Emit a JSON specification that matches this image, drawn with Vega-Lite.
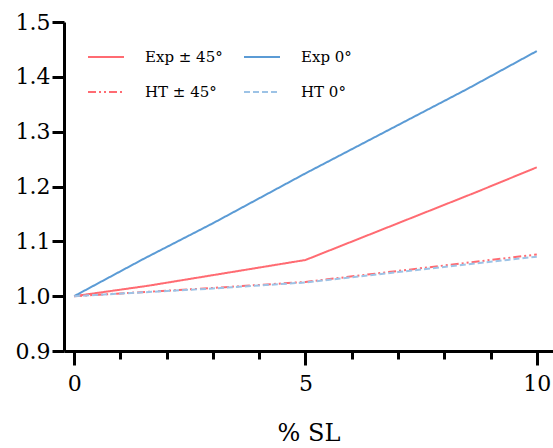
{
  "$schema": "https://vega.github.io/schema/vega-lite/v6.json",
  "autosize": "none",
  "width": 489,
  "height": 329,
  "padding": {"left": 64, "top": 22, "right": 0, "bottom": 97},
  "background": "white",
  "config": {
    "view": {"stroke": null},
    "font": "DejaVu Serif",
    "axis": {"grid": false, "domainColor": "black", "domainWidth": 3, "tickColor": "black", "tickWidth": 3, "labelColor": "black", "labelFont": "DejaVu Serif", "titleFont": "DejaVu Serif", "titleColor": "black", "titleFontWeight": "normal"},
    "legend": {"labelFont": "DejaVu Serif"}
  },
  "data": {"values": [
    {"series": "Exp ± 45°", "x": 0, "y": 1.0},
    {"series": "Exp ± 45°", "x": 1.6, "y": 1.019},
    {"series": "Exp ± 45°", "x": 5, "y": 1.066},
    {"series": "Exp ± 45°", "x": 7, "y": 1.133},
    {"series": "Exp ± 45°", "x": 8.7, "y": 1.19},
    {"series": "Exp ± 45°", "x": 10, "y": 1.235},
    {"series": "Exp 0°", "x": 0, "y": 1.0},
    {"series": "Exp 0°", "x": 1.5, "y": 1.068},
    {"series": "Exp 0°", "x": 3, "y": 1.133},
    {"series": "Exp 0°", "x": 5, "y": 1.224},
    {"series": "Exp 0°", "x": 7, "y": 1.312},
    {"series": "Exp 0°", "x": 8.5, "y": 1.378},
    {"series": "Exp 0°", "x": 10, "y": 1.447},
    {"series": "HT ± 45°", "x": 0, "y": 1.0},
    {"series": "HT ± 45°", "x": 3, "y": 1.015},
    {"series": "HT ± 45°", "x": 5, "y": 1.026},
    {"series": "HT ± 45°", "x": 7, "y": 1.046},
    {"series": "HT ± 45°", "x": 10, "y": 1.076},
    {"series": "HT 0°", "x": 0, "y": 1.0},
    {"series": "HT 0°", "x": 3, "y": 1.014},
    {"series": "HT 0°", "x": 5, "y": 1.025},
    {"series": "HT 0°", "x": 7, "y": 1.044},
    {"series": "HT 0°", "x": 10, "y": 1.072}
  ]},
  "mark": {"type": "line", "strokeWidth": 2},
  "encoding": {
    "x": {
      "field": "x", "type": "quantitative",
      "scale": {"domain": [-0.22, 10.35], "nice": false, "zero": false},
      "axis": {
        "values": [0, 1, 2, 3, 4, 5, 6, 7, 8, 9, 10],
        "labelExpr": "datum.value % 5 === 0 ? datum.label : ''",
        "tickSize": {"condition": {"test": "datum.value % 5 === 0", "value": 14}, "value": 8},
        "labelFontSize": 22,
        "labelPadding": 8,
        "labelFlush": false,
        "title": "% SL",
        "titleFontSize": 24,
        "titleBaseline": "alphabetic",
        "titleY": 89
      }
    },
    "y": {
      "field": "y", "type": "quantitative",
      "scale": {"domain": [0.9, 1.5], "nice": false, "zero": false},
      "axis": {
        "values": [0.9, 1.0, 1.1, 1.2, 1.3, 1.4, 1.5],
        "format": ".1f",
        "tickSize": 12,
        "labelPadding": 2,
        "labelFontSize": 22,
        "labelFlush": false,
        "title": null
      }
    },
    "color": {
      "field": "series", "type": "nominal",
      "scale": {"domain": ["Exp ± 45°", "HT ± 45°", "Exp 0°", "HT 0°"], "range": ["#FF6B72", "#FF6B72", "#5B9BD5", "#9DC3E6"]},
      "legend": {"title": null, "orient": "none", "legendX": 23, "legendY": 16, "columns": 2, "symbolType": "stroke", "symbolSize": 1296, "symbolStrokeWidth": 2, "labelFontSize": 15, "labelColor": "black", "labelOffset": 20, "columnPadding": 17, "rowPadding": 8, "padding": 0}
    },
    "strokeDash": {
      "field": "series", "type": "nominal",
      "scale": {"domain": ["Exp ± 45°", "HT ± 45°", "Exp 0°", "HT 0°"], "range": [[1, 0], [8, 3, 2, 3, 2, 3], [1, 0], [6, 3]]},
      "legend": {"title": null, "orient": "none", "legendX": 23, "legendY": 16, "columns": 2, "symbolType": "stroke", "symbolSize": 1296, "symbolStrokeWidth": 2, "labelFontSize": 15, "labelColor": "black", "labelOffset": 20, "columnPadding": 17, "rowPadding": 8, "padding": 0}
    }
  }
}
